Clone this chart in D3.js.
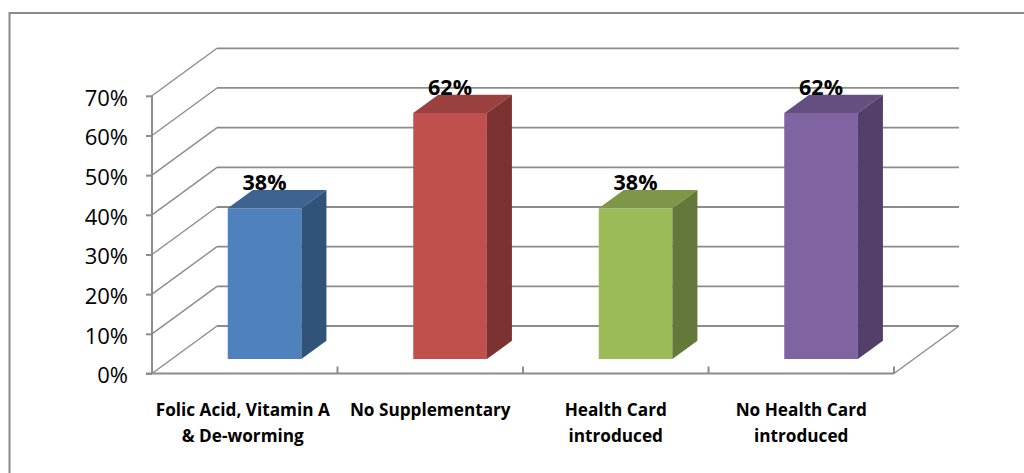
<!DOCTYPE html>
<html><head><meta charset="utf-8">
<script src="https://cdn.jsdelivr.net/npm/d3@7"></script>
<style>html,body{margin:0;padding:0;background:#fff;overflow:hidden}svg{display:block}text{font-family:"Open Sans",Lato,sans-serif;fill:#000}</style>
</head><body><svg id="c" width="1024" height="473"></svg>
<script>
const categories = ["Folic Acid, Vitamin A|& De-worming","No Supplementary","Health Card|introduced","No Health Card|introduced"];
const values = [38,62,38,62];
const yTicks = [0,10,20,30,40,50,60,70];
const frontColors = ["#4f81bd","#c0504d","#9bbb59","#8064a2"];
const topColors = ["#3e6390","#9a403e","#7d9648","#644f80"];
const sideColors = ["#325379","#7b3230","#64783a","#533f69"];

const svg = d3.select("#c");
const grey = "#8c8c8c";
const y = d3.scaleLinear().domain([0,70]).range([373.5,95.8]);
const x = d3.scaleBand().domain(categories).range([152,894]);
const depth = {dx:65, dy:-47.5};
const barStart = 0.305, barDepth = 0.385, barWidth = 0.397;

svg.append("path").attr("d","M1024,13H9.5V473").attr("fill","none").attr("stroke","#8a8a8a").attr("stroke-width",2);

const grid = svg.append("g").attr("fill","none").attr("stroke",grey);
yTicks.forEach(t=>{
  const f = y(t), b = f+depth.dy;
  grid.append("line").attr("x1",152).attr("y1",f).attr("x2",152+depth.dx).attr("y2",b).attr("stroke-width",1.4);
  grid.append("line").attr("x1",152+depth.dx).attr("y1",b).attr("x2",894+depth.dx).attr("y2",b).attr("stroke-width",1.8);
});
grid.append("line").attr("x1",894).attr("y1",y(0)).attr("x2",894+depth.dx).attr("y2",y(0)+depth.dy).attr("stroke-width",1.4);

const yAxis = d3.axisLeft(y).tickValues(yTicks).tickSize(6).tickPadding(18).tickFormat(d=>d+"%");
const yG = svg.append("g").attr("transform","translate(152,0)").call(yAxis);
yG.selectAll("path,line").attr("stroke",grey).attr("stroke-width",2);
yG.selectAll("text").attr("font-size",22).attr("dy","0.42em").style("font-family",'"Open Sans"');
yG.select(".domain").attr("d",`M0,${y(70)}V${y(0)}`);

svg.append("line").attr("x1",146).attr("x2",894).attr("y1",y(0)).attr("y2",y(0)).attr("stroke",grey).attr("stroke-width",2);
const xTicks = categories.map(c=>x(c)+x.bandwidth());
svg.selectAll(".xt").data(xTicks).join("line").attr("class","xt")
  .attr("x1",d=>d).attr("x2",d=>d).attr("y1",y(0)).attr("y2",y(0)-7).attr("stroke",grey).attr("stroke-width",2);

const bars = svg.selectAll(".bar").data(categories.map((c,i)=>({c,i,v:values[i]}))).join("g").attr("class","bar");
const geo = d=>{
  const ox = depth.dx*barStart, oy = depth.dy*barStart;
  const w = x.bandwidth()*barWidth;
  const x0 = x(d.c)+x.bandwidth()/2-w/2+ox;
  const y0 = y(0)+oy, y1 = y(d.v)+oy;
  return {x0,x1:x0+w,y0,y1,sx:depth.dx*barDepth,sy:depth.dy*barDepth};
};
bars.append("path").attr("fill",d=>frontColors[d.i]).attr("d",d=>{const g=geo(d);return `M${g.x0},${g.y0}V${g.y1}H${g.x1}V${g.y0}Z`;});
bars.append("path").attr("fill",d=>topColors[d.i]).attr("d",d=>{const g=geo(d);return `M${g.x0},${g.y1}l${g.sx},${g.sy}H${g.x1+g.sx}L${g.x1},${g.y1}Z`;});
bars.append("path").attr("fill",d=>sideColors[d.i]).attr("d",d=>{const g=geo(d);return `M${g.x1},${g.y0}V${g.y1}l${g.sx},${g.sy}V${g.y0+g.sy}Z`;});

bars.append("text").attr("text-anchor","middle").attr("font-weight",700).attr("font-size",21.5)
  .attr("x",d=>{const g=geo(d);return (g.x0+g.x1)/2;})
  .attr("y",d=>geo(d).y1-18.5).text(d=>d.v+"%");

const labels = svg.selectAll(".cat").data(categories).join("text").attr("class","cat")
  .attr("text-anchor","middle").attr("font-weight",700).attr("font-size",17.2);
labels.each(function(c){
  const cx = x(c)+x.bandwidth()/2 - (categories.indexOf(c)===0?2:0);
  c.split("|").forEach((s,j)=>d3.select(this).append("tspan").attr("x",cx).attr("y",415.5+j*26).text(s));
});
</script></body></html>
